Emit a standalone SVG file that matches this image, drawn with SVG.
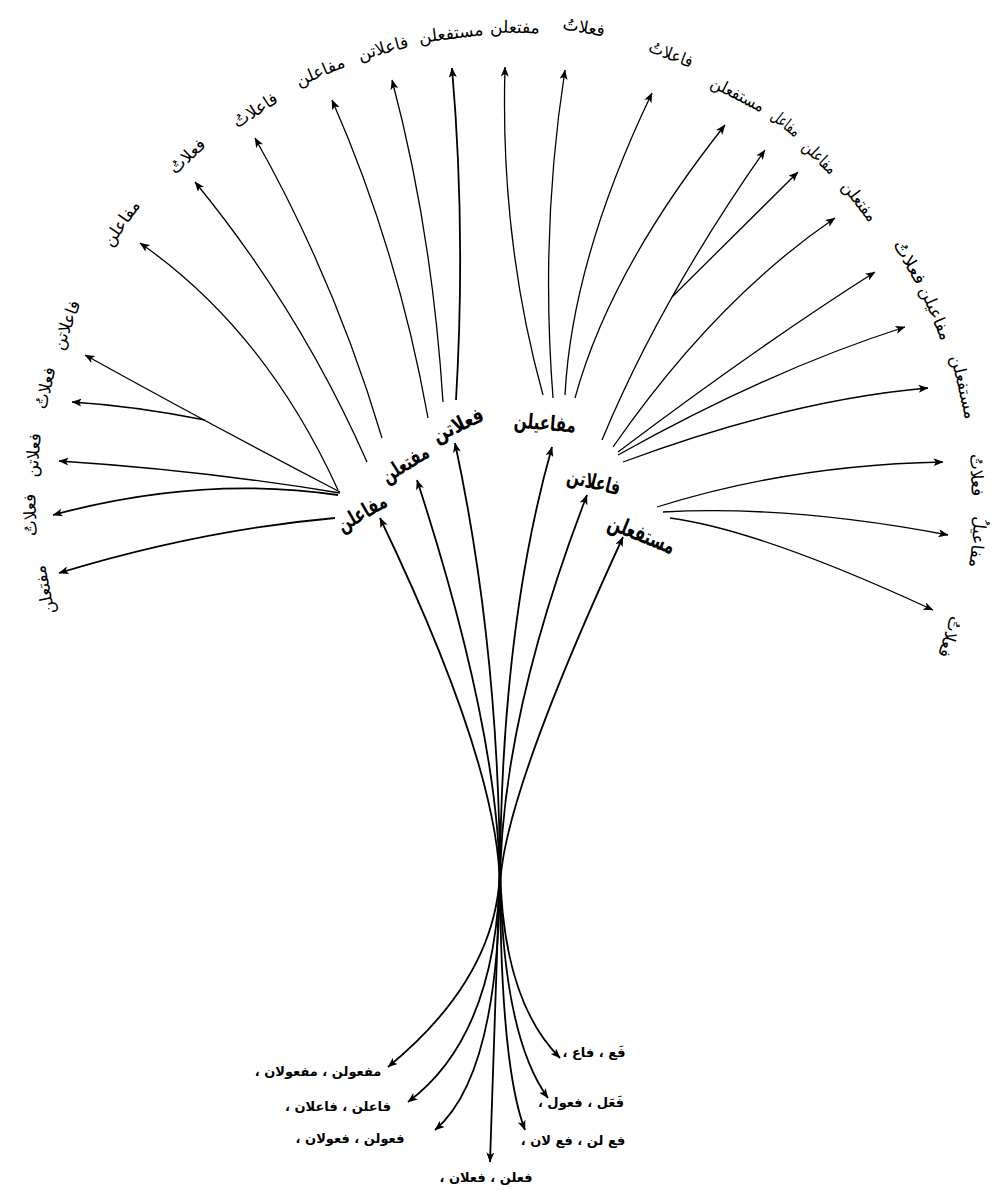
<svg xmlns="http://www.w3.org/2000/svg" width="999" height="1191" viewBox="0 0 999 1191">
<style>
.bg{fill:#fff}
.c{fill:none;stroke:#000;stroke-width:1.3;marker-end:url(#ah)}
.cb{fill:none;stroke:#000;stroke-width:1.8;marker-end:url(#ah)}
text{font-family:"DejaVu Sans",sans-serif;fill:#000;direction:rtl;text-anchor:middle;dominant-baseline:central}
.lf{font-size:17px}
.md{font-size:21px;font-weight:bold}
.bt{font-size:13px;font-weight:bold}
</style>
<defs>
<marker id="ah" viewBox="0 0 10 8" markerWidth="10" markerHeight="8" refX="9.5" refY="4" orient="auto" markerUnits="userSpaceOnUse">
<path d="M0,0 L10,4 L0,8 L2.5,4 z" fill="#000"/>
</marker>
</defs>
<rect class="bg" x="0" y="0" width="999" height="1191"/>
<g id="connectors">
<path class="cb" d="M500,890 Q500,768 380,518"/>
<path class="cb" d="M500,890 Q500,735 417,480"/>
<path class="cb" d="M500,890 Q500,653 455,443"/>
<path class="cb" d="M500,890 Q500,631 552,447"/>
<path class="cb" d="M500,890 Q500,721 587,495"/>
<path class="cb" d="M500,890 Q500,804 623,537"/>
<path class="cb" d="M500,865 Q500,975 388,1067"/>
<path class="cb" d="M500,865 Q498,1035 408,1102"/>
<path class="cb" d="M500,865 Q500,1075 435,1130"/>
<path class="cb" d="M500,865 L490,1162"/>
<path class="cb" d="M500,865 Q502,1000 560,1058"/>
<path class="cb" d="M500,865 Q502,1035 548,1098"/>
<path class="cb" d="M500,865 Q500,1065 525,1130"/>
<path class="c" d="M338,490 Q265,330 140,243"/>
<path class="c" d="M340,492 Q215,427 85,355"/>
<path class="c" d="M205,420 Q135,406 72,402"/>
<path class="c" d="M340,493 Q200,470 59,461"/>
<path class="cb" d="M338,495 Q200,475 53,515"/>
<path class="cb" d="M335,518 Q200,530 59,573"/>
<path class="c" d="M367,462 Q300,310 195,182"/>
<path class="c" d="M382,438 Q335,280 255,138"/>
<path class="c" d="M428,418 Q398,250 332,100"/>
<path class="c" d="M443,402 Q432,230 392,80"/>
<path class="cb" d="M456,400 Q466,230 452,68"/>
<path class="c" d="M543,395 Q500,240 505,67"/>
<path class="c" d="M553,398 Q540,230 565,70"/>
<path class="c" d="M565,395 Q572,260 652,93"/>
<path class="c" d="M575,398 Q610,270 725,125"/>
<path class="c" d="M602,440 Q660,300 765,150"/>
<path class="c" d="M672,297 L798,172"/>
<path class="c" d="M613,447 Q715,300 835,218"/>
<path class="c" d="M618,452 Q760,345 875,272"/>
<path class="c" d="M618,455 Q770,370 905,327"/>
<path class="c" d="M623,462 Q790,400 928,388"/>
<path class="c" d="M657,507 Q790,465 943,462"/>
<path class="c" d="M663,512 Q790,505 948,535"/>
<path class="c" d="M670,518 Q760,530 933,610"/>
</g>
<g id="node-mafaelon"><text class="md" x="362" y="513" transform="rotate(-30 362 513)" textLength="54" lengthAdjust="spacingAndGlyphs">مفاعلن</text></g>
<g id="node-moftaelon"><text class="md" x="405" y="464" transform="rotate(-32 405 464)" textLength="52" lengthAdjust="spacingAndGlyphs">مفتعلن</text></g>
<g id="node-failaton"><text class="md" x="458" y="425" transform="rotate(-25 458 425)" textLength="54" lengthAdjust="spacingAndGlyphs">فعلاتن</text></g>
<g id="node-mafaeelon"><text class="md" x="545" y="423" transform="rotate(5 545 423)" textLength="62" lengthAdjust="spacingAndGlyphs">مفاعیلن</text></g>
<g id="node-faelaton"><text class="md" x="594" y="482" transform="rotate(14 594 482)" textLength="54" lengthAdjust="spacingAndGlyphs">فاعلاتن</text></g>
<g id="node-mostafelon"><text class="md" x="642" y="534" transform="rotate(22 642 534)" style="font-size:23px" textLength="70" lengthAdjust="spacingAndGlyphs">مستفعلن</text></g>
<g id="leaf-l1"><text class="lf" x="66" y="325" transform="rotate(-69 66 325)">فاعلاتن</text></g>
<g id="leaf-l2"><text class="lf" x="45" y="388" transform="rotate(-77 45 388)">فعلاتُ</text></g>
<g id="leaf-l3"><text class="lf" x="33" y="455" transform="rotate(-85 33 455)">فعلاتن</text></g>
<g id="leaf-l4"><text class="lf" x="30" y="515" transform="rotate(-92 30 515)">فعلاتُ</text></g>
<g id="leaf-l5"><text class="lf" x="44" y="590" transform="rotate(-102 44 590)">مفتعلن</text></g>
<g id="leaf-t1"><text class="lf" x="121" y="223" transform="rotate(-55 121 223)">مفاعلن</text></g>
<g id="leaf-t2"><text class="lf" x="187" y="156" transform="rotate(-43 187 156)">فعلاتُ</text></g>
<g id="leaf-t3"><text class="lf" x="255" y="110" transform="rotate(-33 255 110)">فاعلاتُ</text></g>
<g id="leaf-t4"><text class="lf" x="320" y="71" transform="rotate(-23 320 71)">مفاعلن</text></g>
<g id="leaf-t5"><text class="lf" x="383" y="48" transform="rotate(-15 383 48)">فاعلاتن</text></g>
<g id="leaf-t6"><text class="lf" x="451" y="33" transform="rotate(-7 451 33)">مستفعلن</text></g>
<g id="leaf-t7"><text class="lf" x="515" y="27" transform="rotate(1 515 27)">مفتعلن</text></g>
<g id="leaf-t8"><text class="lf" x="584" y="27" transform="rotate(10 584 27)">فعلاتُ</text></g>
<g id="leaf-t9"><text class="lf" x="671" y="54" transform="rotate(21 671 54)" textLength="46" lengthAdjust="spacingAndGlyphs">فاعلاتُ</text></g>
<g id="leaf-t10"><text class="lf" x="738" y="94" transform="rotate(27 738 94)" textLength="58" lengthAdjust="spacingAndGlyphs">مستفعلن</text></g>
<g id="leaf-t11"><text class="lf" x="786" y="123" transform="rotate(38 786 123)" textLength="32" lengthAdjust="spacingAndGlyphs">مفاعل</text></g>
<g id="leaf-t12"><text class="lf" x="820" y="157" transform="rotate(44 820 157)" textLength="40" lengthAdjust="spacingAndGlyphs">مفاعلن</text></g>
<g id="leaf-t13"><text class="lf" x="860" y="201" transform="rotate(52 860 201)" textLength="46" lengthAdjust="spacingAndGlyphs">مفتعلن</text></g>
<g id="leaf-t14"><text class="lf" x="910" y="262" transform="rotate(60 910 262)" textLength="48" lengthAdjust="spacingAndGlyphs">فعلاتُ</text></g>
<g id="leaf-t15"><text class="lf" x="936" y="313" transform="rotate(67 936 313)">مفاعیلن</text></g>
<g id="leaf-t16"><text class="lf" x="964" y="387" transform="rotate(77 964 387)">مستفعلن</text></g>
<g id="leaf-t17"><text class="lf" x="977" y="475" transform="rotate(88 977 475)">فعلاتُ</text></g>
<g id="leaf-t18"><text class="lf" x="978" y="542" transform="rotate(96 978 542)">مفاعیلُ</text></g>
<g id="leaf-t19"><text class="lf" x="950" y="637" transform="rotate(108 950 637)">فعلاتُ</text></g>
<g id="leaf-b1"><text class="bt" x="318" y="1071">مفعولن ، مفعولان ،</text></g>
<g id="leaf-b2"><text class="bt" x="338" y="1106">فاعلن ، فاعلان ،</text></g>
<g id="leaf-b3"><text class="bt" x="350" y="1138">فعولن ، فعولان ،</text></g>
<g id="leaf-b4"><text class="bt" x="486" y="1177">فعلن ، فعلان ،</text></g>
<g id="leaf-b5"><text class="bt" x="594" y="1052">فَع ، فاع ،</text></g>
<g id="leaf-b6"><text class="bt" x="581" y="1102">فَعَل ، فعول ،</text></g>
<g id="leaf-b7"><text class="bt" x="573" y="1140">فع لن ، فع لان ،</text></g>
</svg>
